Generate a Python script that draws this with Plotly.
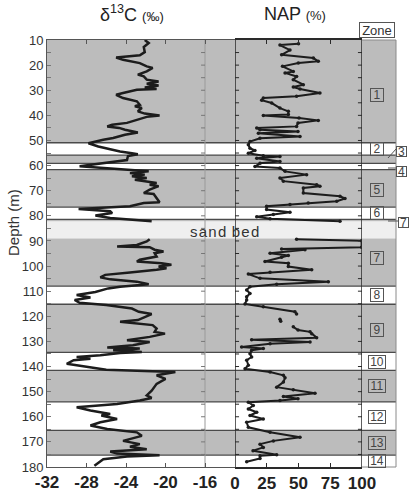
import plotly.graph_objects as go

# ---------------- data ----------------
d13c_depth = [10, 11.2, 12.8, 14.8, 16.1, 16.5, 17.0, 17.9, 18.5, 19.2, 20.5, 21.1, 22.5, 23.8, 24.5,
              25.8, 26.5, 27.4, 28.1, 28.9, 29.5, 29.8, 31.1, 31.8, 33.1, 33.8, 34.4, 35.8, 36.4, 37.1,
              38.4, 39.3, 40.1, 40.6, 41.7, 43.0, 43.7, 44.4, 45.0, 45.7, 46.8, 47.7, 49.0, 49.7, 51.1,
              52.4, 53.5, 54.4, 55.1, 55.5, 56.2, 57.8, 60.3, 61.8, 62.3, 63.0, 63.6, 64.2, 64.9, 65.6,
              66.9, 67.6, 68.2, 69.6, 70.9, 71.3, 72.9, 74.6, 74.9, 76.2, 77.3, 78.2, 78.9, 79.9, 80.9,
              81.5, 82.2, None,
              89.3, 90.2, 91.6, 92.2, 92.5, 93.5, 94.2, 94.9, 96.2, 97.5, 98.2, 98.9, 99.5, 100.2, 100.9,
              101.5, 102.6, 103.5, 104.5, 105.3, 106.2, 107.2, 108.2, 108.9, 110.3, 111.5, 112.5, 113.5,
              114.6, 115.5, 116.9, 118.2, 119.1, 121.5, 122.2, 122.9, 123.5, 124.9, 126.2, 126.9, 128.2,
              129.5, 130.2, 131.5, 132.4, 132.8, 133.5, 134.2, 134.6, 135.5, 136.2, 136.9, 137.5, 138.9,
              140.2, 141.3, 142.2, 143.5, 144.9, 146.9, 149.6, 151.5, 152.5, 153.5, 154.9, 156.2, 157.5,
              158.9, 159.5, 160.9, 162.2, 163.5, 164.9, 166.2, 167.6, 169.6, 170.9, 171.9, 172.9, 173.8,
              174.6, 175.3, 175.8, 176.9, 179.5]
d13c_value = [-22.1, -21.7, -22.2, -22.1, -22.6, -23.9, -25.0, -24.3, -23.3, -22.6, -21.9, -21.3, -21.9, -22.8, -22.2,
              -21.9, -20.7, -21.9, -20.7, -22.1, -20.9, -22.9, -24.3, -25.0, -24.3, -23.4, -22.9, -22.6, -23.1, -22.4,
              -22.8, -22.1, -20.6, -21.9, -22.9, -23.9, -25.4, -25.9, -24.7, -24.1, -22.8, -24.1, -25.3, -26.3, -27.8,
              -26.8, -25.6, -24.6, -23.4, -22.8, -23.8, -23.9, -28.7, -23.9, -21.7, -23.6, -22.1, -23.4, -21.9, -23.1,
              -20.9, -21.6, -20.7, -21.6, -22.2, -21.2, -20.9, -20.6, -22.2, -23.6, -28.8, -25.6, -25.4, -27.1, -25.6,
              -23.6, -21.4, None,
              -21.6, -21.9, -22.9, -24.9, -21.6, -21.1, -20.2, -21.1, -20.9, -22.6, -22.9, -20.4, -19.4, -20.7, -19.9,
              -20.9, -23.6, -26.1, -26.6, -25.6, -22.9, -21.7, -24.6, -25.8, -27.1, -29.0, -27.6, -29.2,
              -28.7, -26.0, -23.4, -22.7, -21.4, -22.8, -24.6, -22.6, -21.3, -20.9, -21.1, -20.05, -21.6,
              -23.9, -21.6, -23.3, -25.9, -22.6, -25.3, -22.4, -24.6, -26.6, -29.0, -27.6, -29.3, -30.0,
              -28.0, -26.0, -19.0, -20.9, -20.0, -20.9, -21.4, -21.9, -21.4, -22.6, -24.9, -29.0, -27.6,
              -25.6, -26.5, -24.9, -26.6, -27.6, -25.9, -22.9, -22.4, -24.3, -22.6, -23.6, -21.9, -25.6,
              -24.9, -20.6, -23.9, -26.3, -27.2]

nap_depth = [11.5, 12.0, 14.0, 15.9, 17.2, 18.5, 19.2, 20.5, 22.5, 23.1, 24.5, 25.8, 27.8, 28.7, 29.5,
             31.1, 32.4, 33.1, 34.0, 35.1, 37.1, 38.4, 39.7, 40.1, 41.1, 42.0, 43.0, 44.4, 45.0, 45.7,
             46.4, 47.1, 48.4, 49.1, 50.4, 51.7, 53.1, 54.0, 55.1, 56.1, 56.4, 57.1, 58.4, 59.1, 60.4,
             61.0, 62.3, 63.6, 64.9, 66.2, 67.6, 68.2, 68.9, 70.9, 72.2, 73.1, 74.2, 74.9, 75.5, 76.2,
             77.5, 78.6, 79.5, 80.4, 81.2, 82.2, None,
             89.3, 89.9, 92.5, 93.2, 93.5, 94.9, 95.8, 96.5, 98.2, 98.9, 100.2, 101.5, 102.5, 103.2, 104.9,
             106.2, 107.2, 108.2, 109.5, 110.9, 112.2, 113.5, 115.1, 116.2, 118.2, 119.1, None,
             121.2, 122.0, None,
             124.2, 125.5, 126.2, 126.9, 128.5, 129.3, 130.2, 130.9, 132.2, 132.8, 133.5, 134.9, 136.2,
             137.5, 139.5, 140.9, 142.2, 143.5, 144.5, 146.2, 148.2, 149.2, 150.6, 151.9, 152.8, 153.5,
             154.2, 155.5, 156.9, 158.2, 159.5, 160.9, 162.2, 164.2, 166.2, 168.2, 169.6, 170.9, 172.2,
             173.5, 175.1, 175.5, 176.6, 177.9, 179.0]
nap_value = [50.0, 35.4, 43.3, 36.7, 61.7, 65.6, 49.9, 37.4, 45.9, 39.4, 48.5, 45.9, 53.8, 45.9, 51.2,
             66.9, 48.5, 22.3, 21.0, 28.9, 35.4, 42.0, 42.0, 22.3, 50.4, 65.6, 49.6, 48.5, 17.1, 19.7,
             49.6, 18.4, 51.2, 19.7, 11.8, 10.5, 11.8, 15.7, 10.5, 22.3, 35.4, 17.1, 35.4, 19.7, 15.7,
             35.4, 39.4, 56.4, 35.4, 38.1, 64.3, 66.9, 53.8, 53.8, 82.7, 86.6, 80.1, 57.7, 43.3, 24.9,
             24.9, 43.3, 30.2, 17.1, 27.6, 82.7, None,
             48.5, 99.7, 99.7, 36.7, 55.1, 27.6, 42.0, 36.7, 23.6, 42.0, 42.0, 60.4, 27.6, 10.5, 19.7,
             73.5, 32.8, 11.8, 9.2, 11.8, 9.2, 9.2, 7.9, 22.3, 47.2, 48.5, None,
             35.4, 36.0, None,
             45.9, 49.6, 59.1, 60.4, 64.3, 13.1, 59.1, 27.6, 5.2, 22.3, 13.1, 11.8, 13.1,
             9.2, 10.5, 7.9, 27.6, 38.1, 39.4, 38.1, 32.8, 45.9, 63.0, 38.1, 49.6, 35.4,
             10.5, 14.4, 10.5, 17.1, 11.8, 22.3, 9.2, 10.5, 27.6, 51.2, 30.2, 19.7, 22.3,
             14.2, 32.8, 19.7, 19.7, 9.2]

zone_bounds = [10, 50.9, 55.8, 59.1, 61.6, 76.5, 81.4, 82.3, 89.0, 108.0, 115.2, 134.4, 141.5,
               154.1, 165.4, 175.3, 180]
zone_fill = ["g", "w", "g", "w", "g", "w", "g", "s", "g", "w", "g", "w", "g", "w", "g", "w"]
zone_names = ["1", "2", "5", "6", "7", "8", "9", "10", "11", "12", "13", "14"]
zone_label_depth = [32, 53.4, 69.8, 78.9, 96.8, 111.6, 125.5, 138.0, 147.6, 160.0, 170.3, 177.6]
side_names = ["3", "4", "7"]
side_label_depth = [54.4, 62.5, 82.6]

d13c_ticks = [-32, -28, -24, -20, -16]
nap_ticks = [0, 25, 50, 75, 100]
depth_ticks = list(range(10, 181, 10))

# ---------------- geometry ----------------
W, H = 412, 495
L, R, T, B = 47, 16, 40, 28
pw = W - L - R
ph = H - T - B
def px(x):
    return (x - L) / pw
def py(y):
    return (H - B - y) / ph

split1 = px(235)
split2 = px(362)

GREY = "#bcbcbc"
SAND = "#efefef"
col = {"g": GREY, "w": "#ffffff", "s": SAND}
FONT = "Liberation Sans, Arial, sans-serif"
C = dict(xanchor="center", yanchor="middle", showarrow=False)

fig = go.Figure()
fig.add_trace(go.Scatter(x=d13c_value, y=d13c_depth, mode="lines", xaxis="x", yaxis="y",
                         line=dict(color="#1c1c1c", width=2.5), connectgaps=False,
                         showlegend=False, hoverinfo="skip"))
fig.add_trace(go.Scatter(x=nap_value, y=nap_depth, mode="lines+markers", xaxis="x2", yaxis="y",
                         line=dict(color="#1c1c1c", width=2.0), marker=dict(size=3.5, color="#1c1c1c"),
                         connectgaps=False, showlegend=False, hoverinfo="skip"))

shapes = []
# bands
for i in range(len(zone_fill)):
    shapes.append(dict(type="rect", xref="paper", yref="y", x0=0, x1=1,
                       y0=zone_bounds[i], y1=zone_bounds[i + 1],
                       fillcolor=col[zone_fill[i]], line=dict(width=0), layer="below"))
# zone boundary lines
for i in range(1, len(zone_bounds) - 1):
    if zone_fill[i] == "s" or zone_fill[i - 1] == "s":
        continue
    shapes.append(dict(type="line", xref="paper", yref="y", x0=0, x1=1,
                       y0=zone_bounds[i], y1=zone_bounds[i], line=dict(color="#4a4a4a", width=1.3),
                       layer="below"))
# vertical lines
shapes.append(dict(type="line", xref="x", yref="paper", x0=-16, x1=-16, y0=0, y1=1,
                   line=dict(color="#9a9a9a", width=1), layer="below"))
shapes.append(dict(type="line", xref="paper", yref="paper", x0=1, x1=1, y0=0, y1=1,
                   line=dict(color="#8a8a8a", width=1), layer="below"))
shapes.append(dict(type="line", xref="paper", yref="paper", x0=split2, x1=1, y0=1, y1=1,
                   line=dict(color="#8a8a8a", width=1), layer="below"))
shapes.append(dict(type="line", xref="paper", yref="paper", x0=split2, x1=1, y0=0, y1=0,
                   line=dict(color="#8a8a8a", width=1), layer="below"))
shapes.append(dict(type="line", xref="x2", yref="paper", x0=0, x1=0, y0=0, y1=1,
                   line=dict(color="#2a2a2a", width=1.5)))
shapes.append(dict(type="line", xref="x2", yref="paper", x0=100, x1=100, y0=0, y1=1,
                   line=dict(color="#2a2a2a", width=1.5)))
# side ticks
for d in range(15, 180, 5):
    shapes.append(dict(type="line", xref="x", yref="y", x0=-16.4, x1=-16, y0=d, y1=d,
                       line=dict(color="#777777", width=1), layer="below"))
    shapes.append(dict(type="line", xref="x2", yref="y", x0=0, x1=3.2, y0=d, y1=d,
                       line=dict(color="#2a2a2a", width=1)))
    shapes.append(dict(type="line", xref="x2", yref="y", x0=96.8, x1=100, y0=d, y1=d,
                       line=dict(color="#2a2a2a", width=1)))
# side connector lines
shapes.append(dict(type="line", xref="paper", yref="paper", x0=px(388), x1=px(396), y0=py(158), y1=py(149),
                   line=dict(color="#555555", width=1)))
shapes.append(dict(type="line", xref="paper", yref="paper", x0=px(388), x1=px(396), y0=py(168), y1=py(168),
                   line=dict(color="#555555", width=1)))
shapes.append(dict(type="line", xref="paper", yref="paper", x0=px(388), x1=px(398), y0=py(221), y1=py(221),
                   line=dict(color="#555555", width=1)))

ann = []
ann.append(dict(text="δ<sup>13</sup>C <span style='font-size:13px'>(‰)</span>", xref="paper", yref="paper",
                x=px(132), y=py(14), font=dict(size=18, color="#222", family=FONT), **C))
ann.append(dict(text="NAP <span style='font-size:13px'>(%)</span>", xref="paper", yref="paper",
                x=px(295), y=py(14), font=dict(size=18, color="#222", family=FONT), **C))
ann.append(dict(text="Zone", xref="paper", yref="paper", x=px(377), y=py(29.5),
                font=dict(size=13, color="#333", family=FONT), bordercolor="#555", borderwidth=1,
                borderpad=0, bgcolor="white", width=34, height=14, **C))
ann.append(dict(text="Depth (m)", xref="paper", yref="paper", x=px(13), y=py(223),
                textangle=-90, font=dict(size=15, color="#333", family=FONT), **C))
ann.append(dict(text="s\u200aa\u200an\u200ad \u200ab\u200ae\u200ad", xref="paper", yref="y", x=px(224), y=86.2,
                font=dict(size=15, color="#333", family=FONT), **C))
for name, d in zip(zone_names, zone_label_depth):
    ann.append(dict(text=name, xref="paper", yref="y", x=px(377), y=d,
                    font=dict(size=12, color="#444", family=FONT), bordercolor="#555", borderwidth=1,
                    borderpad=0, width=12 if len(name) == 1 else 16, height=12, **C))
side_x = [px(401.5), px(401.5), px(403)]
for name, d, sx in zip(side_names, side_label_depth, side_x):
    ann.append(dict(text=name, xref="paper", yref="y", x=sx, y=d,
                    font=dict(size=12, color="#444", family=FONT), bordercolor="#555", borderwidth=1,
                    borderpad=0, width=9, height=9, bgcolor="white", **C))

fig.update_layout(
    width=W, height=H, margin=dict(l=L, r=R, t=T, b=B, pad=0, autoexpand=False),
    paper_bgcolor="white", plot_bgcolor="white",
    shapes=shapes, annotations=ann, showlegend=False,
    xaxis=dict(domain=[0, split1], range=[-32, -16 + (235 - 205) / 9.875], tickvals=d13c_ticks,
               ticktext=[str(v) for v in d13c_ticks], ticks="inside", ticklen=4, tickcolor="#555",
               showline=True, linecolor="#555", linewidth=1, mirror="ticks", showgrid=False,
               zeroline=False, tickfont=dict(size=17, color="#222", family=FONT, weight="bold"),
               anchor="y", fixedrange=True, automargin=False),
    xaxis2=dict(domain=[split1, split2], range=[0, 100], tickvals=nap_ticks,
                ticktext=[str(v) for v in nap_ticks], ticks="inside", ticklen=4, tickcolor="#2a2a2a",
                showline=True, linecolor="#2a2a2a", linewidth=1.5, mirror="ticks", showgrid=False,
                zeroline=False, tickfont=dict(size=17, color="#222", family=FONT, weight="bold"),
                anchor="y", fixedrange=True, automargin=False),
    yaxis=dict(range=[180, 10], tickvals=depth_ticks, ticktext=[str(v) for v in depth_ticks],
               ticks="inside", ticklen=4, tickcolor="#777", showline=True, linecolor="#555",
               linewidth=1, showgrid=False, zeroline=False,
               minor=dict(tickvals=list(range(15, 180, 10)), ticks="inside", ticklen=4, tickcolor="#777"),
               tickfont=dict(size=13, color="#333", family=FONT), anchor="x", fixedrange=True,
               automargin=False),
)

fig.write_html("out.html")
